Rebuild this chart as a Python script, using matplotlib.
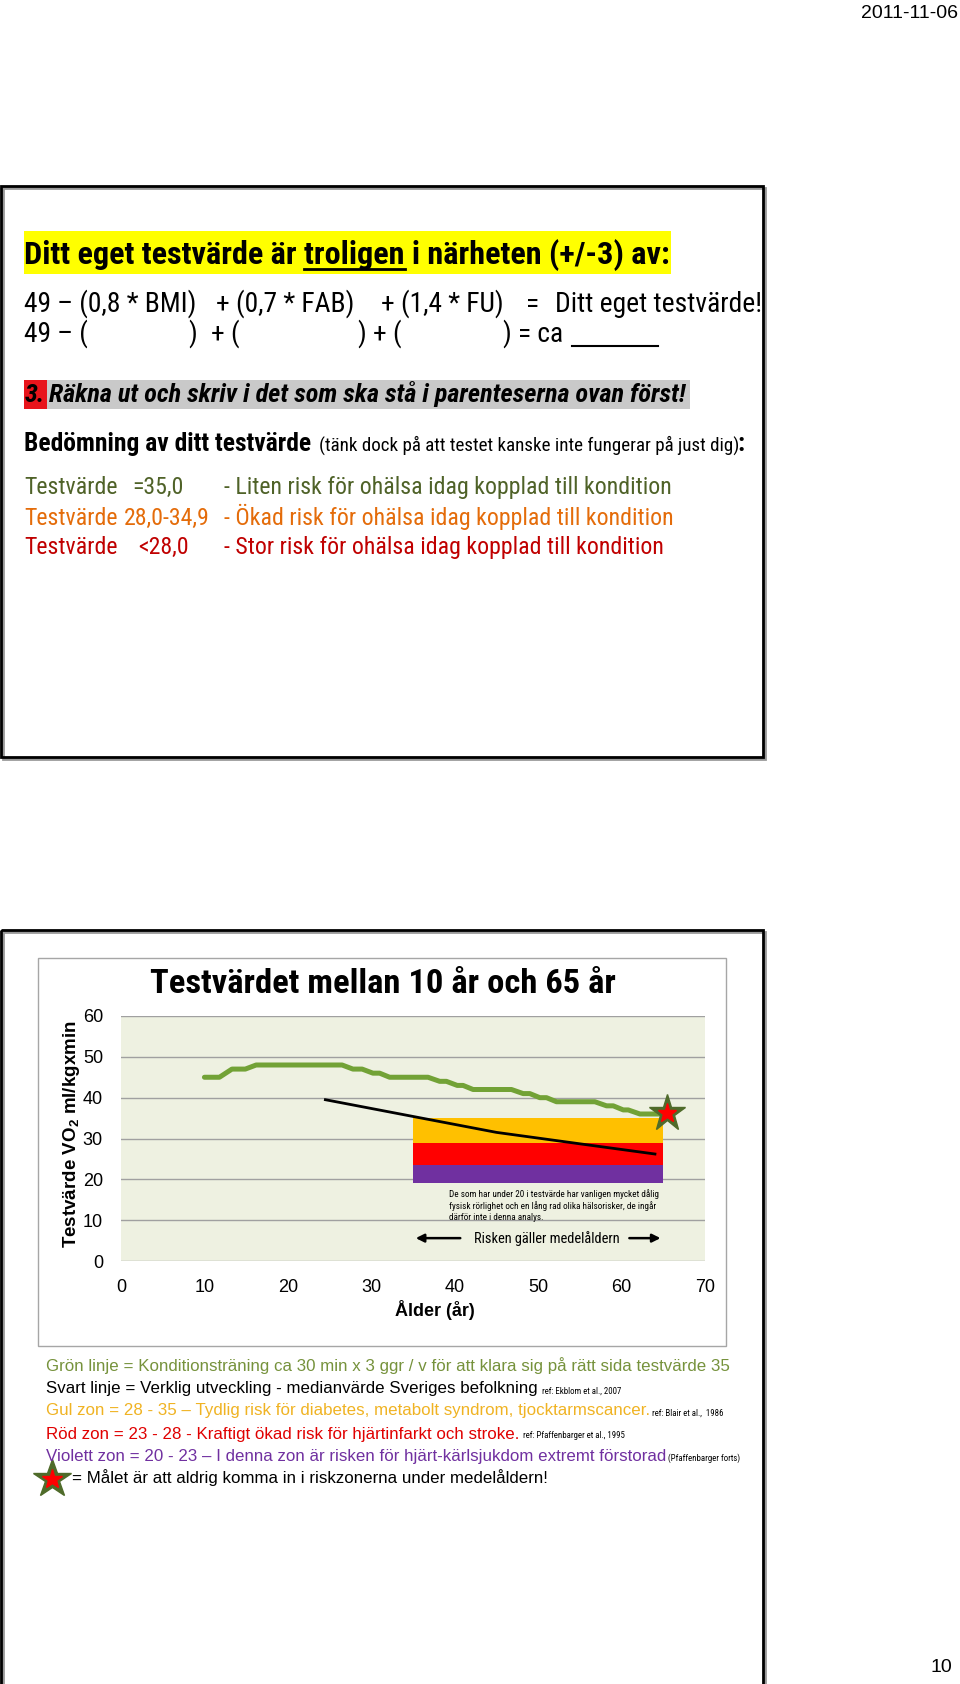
import matplotlib
matplotlib.use('Agg')
import matplotlib.pyplot as plt
from matplotlib.patches import Rectangle
from matplotlib import font_manager as fm

# ---- chart data ----
x_ticks = [0, 10, 20, 30, 40, 50, 60, 70]
y_ticks = [0, 10, 20, 30, 40, 50, 60]

# green line: training target, age (years) vs test value
green_age = [10, 11.8, 13.3, 14.9, 16.2, 26.5, 27.8, 28.9, 30.2, 31.0, 32.2, 36.8,
             38.2, 39.0, 40.3, 41.0, 42.2, 46.8, 48.2, 49.0, 50.2, 51.0, 52.2, 56.8,
             58.2, 59.0, 60.2, 60.8, 62.2, 64.6]
green_val = [45, 45, 47, 47, 48, 48, 47, 47, 46, 46, 45, 45,
             44, 44, 43, 43, 42, 42, 41, 41, 40, 40, 39, 39,
             38, 38, 37, 37, 36, 36]

# black line: median of the Swedish population
black_age = [24.5, 35, 45, 55, 64]
black_val = [39.5, 35.4, 31.5, 28.7, 26.2]

# risk zones (yellow, red, violet)
zone_low = [29.0, 23.4, 19.0]
zone_high = [35.0, 29.0, 23.4]
zone_start = 35
zone_end = 65
zone_colors = ['#FFC000', '#FF0000', '#7030A0']

star_age = 65.5
star_val = 36.2

risk_arrow_from = 35
risk_arrow_to = 65

# ---- fonts ----
names = {f.name for f in fm.fontManager.ttflist}
NARROW = {'family': 'Liberation Sans'}
for n in ['Liberation Sans Narrow', 'Roboto Condensed', 'Open Sans Condensed']:
    if n in names:
        NARROW = {'family': n}
        break
else:
    if any(f.name == 'DejaVu Sans' and f.stretch in ('condensed', 'semi-condensed')
           for f in fm.fontManager.ttflist):
        NARROW = {'family': 'DejaVu Sans', 'stretch': 'condensed'}

plt.rcParams['font.family'] = ['Liberation Sans', 'DejaVu Sans']
plt.rcParams['mathtext.fontset'] = 'custom'
plt.rcParams['mathtext.rm'] = 'Liberation Sans:bold'
plt.rcParams['mathtext.default'] = 'rm'

fig = plt.figure(figsize=(9.6, 16.84), dpi=100)
r = fig.canvas.get_renderer()

# page background axes in pixel coordinates (y down)
bg = fig.add_axes([0, 0, 1, 1])
bg.set_xlim(0, 960)
bg.set_ylim(1684, 0)
bg.axis('off')


def put(x, y, s, width=None, narrow=False, **kw):
    kw.setdefault('va', 'center')
    if narrow:
        kw.update(NARROW)
    t = bg.text(x, y, s, **kw)
    if width:
        w = t.get_window_extent(r).width
        t.set_fontsize(t.get_fontsize() * width / w)
    return t


def x1(t):
    return t.get_window_extent(r).x1


# date and page number
put(958, 14, '2011-11-06', ha='right', fontsize=14)
put(952, 1668, '10', ha='right', fontsize=14)

# ---- upper slide ----
bg.add_patch(Rectangle((3, 188), 762, 571, fill=False, ec='#999999', lw=2))
bg.add_patch(Rectangle((1, 186), 762, 571, fill=False, ec='black', lw=2))

bg.add_patch(Rectangle((24, 231), 647, 43, color='#FFFF00', lw=0))
head = 'Ditt eget testvärde är troligen i närheten (+/-3) av:'
h = put(24, 264, head, width=646, narrow=True, weight='bold', fontsize=22, va='baseline')
hs = h.get_fontsize()
tmp = put(24, 264, 'Ditt eget testvärde är troligen', narrow=True, weight='bold', fontsize=hs)
tmp2 = put(24, 264, 'troligen', narrow=True, weight='bold', fontsize=hs)
u_end = x1(tmp)
u_w = tmp2.get_window_extent(r).width
tmp.remove()
tmp2.remove()
bg.plot([u_end - u_w, u_end], [269, 269], color='black', lw=2)

# formula lines
last = put(555, 312, 'Ditt eget testvärde!', width=206, narrow=True, fontsize=19, va='baseline')
fs2 = last.get_fontsize()
for xx, s in [(24, '49 – (0,8 * BMI)'), (216, '+ (0,7 * FAB)'),
              (381, '+ (1,4 * FU)'), (526, '=')]:
    put(xx, 312, s, narrow=True, fontsize=fs2, va='baseline')
for xx, s in [(24, '49 – ('), (188, ')'), (211, '+ ('), (357, ')'),
              (373, '+ ('), (502, ')'), (518, '= ca')]:
    put(xx, 342, s, narrow=True, fontsize=fs2, va='baseline')
bg.plot([572, 658], [346, 346], color='black', lw=1.5)

# step 3
bg.add_patch(Rectangle((24, 380), 23, 29, color='#E8141B', lw=0))
bg.add_patch(Rectangle((47, 380), 643, 29, color='#C9C9C9', lw=0))
s3 = put(49, 402, 'Räkna ut och skriv i det som ska stå i parenteserna ovan först!',
         width=638, narrow=True, weight='bold', style='italic', fontsize=18, va='baseline')
put(25, 402, '3.', narrow=True, weight='bold', style='italic',
    fontsize=s3.get_fontsize(), va='baseline')

# assessment
b = put(24, 451, 'Bedömning av ditt testvärde', width=288, narrow=True,
        weight='bold', fontsize=17, va='baseline')
p = put(319, 451, '(tänk dock på att testet kanske inte fungerar på just dig)',
        width=418, narrow=True, fontsize=13, va='baseline')
put(737, 451, ':', narrow=True, weight='bold', fontsize=b.get_fontsize(), va='baseline')

g = put(224, 494, '- Liten risk för ohälsa idag kopplad till kondition', width=447,
        narrow=True, fontsize=17, color='#4F6228', va='baseline')
fs6 = g.get_fontsize()
rows_top = [
    (494, '#4F6228', [(24, 'Testvärde'), (132, '=35,0')]),
    (525, '#E46C0A', [(24, 'Testvärde'), (124, '28,0-34,9'),
                      (224, '- Ökad risk för ohälsa idag kopplad till kondition')]),
    (554, '#C00000', [(24, 'Testvärde'), (138, '<28,0'),
                      (224, '- Stor risk för ohälsa idag kopplad till kondition')]),
]
for yy, c, pieces in rows_top:
    for xx, s in pieces:
        put(xx, yy, s, narrow=True, fontsize=fs6, color=c, va='baseline')

# ---- lower slide ----
bg.add_patch(Rectangle((3, 932), 762, 800, fill=False, ec='#999999', lw=2))
bg.add_patch(Rectangle((1, 930), 762, 800, fill=False, ec='black', lw=2))
bg.add_patch(Rectangle((38, 958), 688, 388, fill=False, ec='#A6A6A6', lw=1))

put(383, 984, 'Testvärdet mellan 10 år och 65 år', width=464, narrow=True,
    weight='bold', fontsize=22, ha='center')
put(72, 1134, 'Testvärde VO$_2$ ml/kgxmin', rotation=90, ha='center',
    weight='bold', fontsize=13.5)
put(435, 1310, 'Ålder (år)', ha='center', weight='bold', fontsize=13)

ax = fig.add_axes([121 / 960, 1 - 1261 / 1684, (705 - 121) / 960, (1261 - 1016) / 1684])
ax.set_facecolor('#EEF1E1')
ax.set_xlim(0, 70)
ax.set_ylim(0, 60)
ax.set_xticks(x_ticks)
ax.set_yticks(y_ticks)
ax.tick_params(length=0, labelsize=13)
ax.tick_params(axis='y', pad=13)
ax.tick_params(axis='x', pad=13)
for sp in ax.spines.values():
    sp.set_visible(False)
ax.yaxis.grid(True, color='#A0A0A0', lw=1)
ax.set_axisbelow(True)

for lo, hi, c in zip(zone_low, zone_high, zone_colors):
    ax.bar(zone_start, hi - lo, bottom=lo, width=zone_end - zone_start,
           align='edge', color=c, lw=0, zorder=2)

ax.plot(green_age, green_val, color='#72A236', lw=3.6, solid_joinstyle='round',
        solid_capstyle='round', zorder=3)
ax.plot(black_age, black_val, color='black', lw=2, zorder=4)
ax.plot(star_age, star_val, marker='*', ms=28, color='#4F6B2A', clip_on=False, zorder=5)
ax.plot(star_age, star_val, marker='*', ms=14, color='#FF0000', clip_on=False, zorder=6)

ax.text(39.3, 17.6, 'De som har under 20 i testvärde har vanligen mycket dålig\n'
        'fysisk rörlighet och en lång rad olika hälsorisker, de ingår\n'
        'därför inte i denna analys.', fontsize=6.6,
        va='top', ha='left', linespacing=1.25, zorder=5, **NARROW)
rk = ax.text(51, 5.6, 'Risken gäller medelåldern', fontsize=10,
             ha='center', va='center', zorder=5, **NARROW)
w = rk.get_window_extent(r).width
rk.set_fontsize(10 * 145 / w)
ax.annotate('', xy=(risk_arrow_from, 5.6), xytext=(41, 5.6),
            arrowprops=dict(arrowstyle='-|>', color='black', lw=1.8, mutation_scale=12))
ax.annotate('', xy=(risk_arrow_to, 5.6), xytext=(60.6, 5.6),
            arrowprops=dict(arrowstyle='-|>', color='black', lw=1.8, mutation_scale=12))

# ---- legend text below the chart ----
gl = put(46, 1366, 'Grön linje = Konditionsträning ca 30 min x 3 ggr / v för att klara sig på rätt sida testvärde 35',
         width=680, fontsize=11, color='#76923C')
lf = gl.get_fontsize()
rows = [
    (1389, 'Svart linje = Verklig utveckling - medianvärde Sveriges befolkning', 'black', ' ref: Ekblom et al., 2007'),
    (1411, 'Gul zon = 28 - 35 – Tydlig risk för diabetes, metabolt syndrom, tjocktarmscancer.', '#F0B323', 'ref: Blair et al.,  1986'),
    (1434, 'Röd zon = 23 - 28 - Kraftigt ökad risk för hjärtinfarkt och stroke.', '#E00000', ' ref: Pfaffenbarger et al., 1995'),
    (1456, 'Violett zon = 20 - 23 – I denna zon är risken för hjärt-kärlsjukdom extremt förstorad', '#7030A0', '(Pfaffenbarger forts)'),
]
for yy, s, c, ref in rows:
    t = put(46, yy, s, fontsize=lf, color=c)
    put(x1(t) + 2, yy + 2, ref, narrow=True, fontsize=6.3, color='black')

bg.plot(52, 1479, marker='*', ms=29, color='#4F6B2A')
bg.plot(52, 1479, marker='*', ms=15, color='#FF0000')
put(72, 1478, '= Målet är att aldrig komma in i riskzonerna under medelåldern!', fontsize=lf)

fig.savefig('out.png', dpi=100)
